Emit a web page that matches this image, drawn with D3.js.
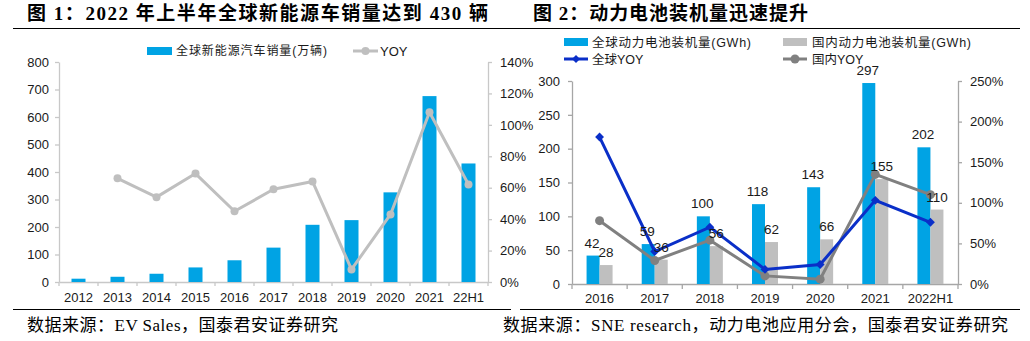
<!DOCTYPE html>
<html>
<head>
<meta charset="utf-8">
<script src="https://cdn.jsdelivr.net/npm/d3@7"></script>
<style>
  body { margin: 0; background: #fff; }
</style>
</head>
<body>
<script>
// chart 1 data
const years1 = ["2012", "2013", "2014", "2015", "2016", "2017", "2018", "2019", "2020", "2021", "22H1"];
const sales = [12, 19, 30, 53, 79, 125, 208, 225, 326, 676, 431];
const yoy1 = [null, 66, 54, 69, 45, 59, 64, 8, 43, 108, 62];
const leftTicks1 = [0, 100, 200, 300, 400, 500, 600, 700, 800];
const rightTicks1 = [0, 20, 40, 60, 80, 100, 120, 140];

// chart 2 data
const years2 = ["2016", "2017", "2018", "2019", "2020", "2021", "2022H1"];
const globalGwh = [42, 59, 100, 118, 143, 297, 202];
const chinaGwh = [28, 36, 56, 62, 66, 155, 110];
const globalYoy = [181, 40, 70, 18, 24, 103, 76];
const chinaYoy = [78, 29, 54, 10, 6, 135, 110];
const leftTicks2 = [0, 50, 100, 150, 200, 250, 300];
const rightTicks2 = [0, 50, 100, 150, 200, 250];

const width = 1030;
const height = 341;
const sans = "'Liberation Sans', Arial, 'Noto Sans CJK SC', sans-serif";
const serif = "'Liberation Serif', 'Times New Roman', 'Noto Sans CJK SC', serif";

const colors = {
  blue: "#00A3E4",
  lightGray: "#BFBFBF",
  darkGray: "#808080",
  navy: "#0A2FC8",
  axis1: "#C8C8C8",
  axis2: "#A6A6A6",
  text: "#1A1A1A",
};

const svg = d3.select("body")
  .append("svg")
  .attr("width", width)
  .attr("height", height)
  .attr("viewBox", `0 0 ${width} ${height}`);

svg.append("rect").attr("width", width).attr("height", height).attr("fill", "#fff");

// titles and rules
svg.append("text")
  .attr("x", 27).attr("y", 19.5)
  .attr("font-family", serif).attr("font-size", 19).attr("font-weight", 700)
  .attr("fill", "#000")
  .attr("textLength", 461).attr("lengthAdjust", "spacing")
  .text("图 1：2022 年上半年全球新能源车销量达到 430 辆");

svg.append("text")
  .attr("x", 533).attr("y", 19.5)
  .attr("font-family", serif).attr("font-size", 19).attr("font-weight", 700)
  .attr("fill", "#000")
  .attr("textLength", 275).attr("lengthAdjust", "spacing")
  .text("图 2：动力电池装机量迅速提升");

svg.append("line").attr("x1", 13).attr("x2", 1020).attr("y1", 28.5).attr("y2", 28.5)
  .attr("stroke", "#000").attr("stroke-width", 1.2);
svg.append("line").attr("x1", 13).attr("x2", 511).attr("y1", 309.5).attr("y2", 309.5)
  .attr("stroke", "#000").attr("stroke-width", 1.2);
svg.append("line").attr("x1", 520).attr("x2", 1020).attr("y1", 309.5).attr("y2", 309.5)
  .attr("stroke", "#000").attr("stroke-width", 1.2);

svg.append("text")
  .attr("x", 27).attr("y", 331)
  .attr("font-family", serif).attr("font-size", 17).attr("fill", "#000")
  .attr("textLength", 311).attr("lengthAdjust", "spacing")
  .text("数据来源：EV Sales，国泰君安证券研究");

svg.append("text")
  .attr("x", 503).attr("y", 331)
  .attr("font-family", serif).attr("font-size", 17).attr("fill", "#000")
  .attr("textLength", 505).attr("lengthAdjust", "spacing")
  .text("数据来源：SNE research，动力电池应用分会，国泰君安证券研究");

function styleAxis(g, color) {
  g.select(".domain").attr("stroke", color).attr("stroke-width", 1.3);
  g.selectAll(".tick line").attr("stroke", color).attr("stroke-width", 1.3);
  g.selectAll("text")
    .attr("fill", colors.text)
    .attr("font-family", sans)
    .attr("font-size", 13);
}

// ---------- chart 1 ----------
{
  const left = 59, right = 488, top = 62, bottom = 282;
  const x = d3.scaleBand().domain(years1).range([left, right]);
  const y = d3.scaleLinear().domain([0, 800]).range([bottom, top]);
  const y2 = d3.scaleLinear().domain([0, 140]).range([bottom, top]);
  const barW = 14;

  svg.append("g")
    .attr("transform", `translate(${left},0)`)
    .call(d3.axisLeft(y).tickValues(leftTicks1).tickSize(4).tickPadding(6).tickSizeOuter(0))
    .call((g) => styleAxis(g, colors.axis1));

  svg.append("g")
    .attr("transform", `translate(${right},0)`)
    .call(d3.axisRight(y2).tickValues(rightTicks1).tickSize(4).tickPadding(8).tickSizeOuter(0)
      .tickFormat((d) => d + "%"))
    .call((g) => styleAxis(g, colors.axis1));

  const xAxis = svg.append("g")
    .attr("transform", `translate(0,${bottom})`)
    .call(d3.axisBottom(x).tickSize(0).tickPadding(11))
    .call((g) => styleAxis(g, colors.axis1));
  xAxis.selectAll(".boundary")
    .data(d3.range(years1.length + 1))
    .join("line")
    .attr("x1", (i) => left + i * x.step())
    .attr("x2", (i) => left + i * x.step())
    .attr("y1", 0).attr("y2", 4)
    .attr("stroke", colors.axis1).attr("stroke-width", 1.3);

  svg.append("g")
    .selectAll("rect")
    .data(years1)
    .join("rect")
    .attr("x", (d) => x(d) + x.bandwidth() / 2 - barW / 2)
    .attr("y", (d, i) => y(sales[i]))
    .attr("width", barW)
    .attr("height", (d, i) => y(0) - y(sales[i]))
    .attr("fill", colors.blue);

  const pts = years1.map((d, i) => ({ x: x(d) + x.bandwidth() / 2, v: yoy1[i] })).filter((p) => p.v !== null);
  svg.append("path")
    .datum(pts)
    .attr("fill", "none")
    .attr("stroke", colors.lightGray)
    .attr("stroke-width", 3)
    .attr("stroke-linejoin", "round")
    .attr("d", d3.line().x((p) => p.x).y((p) => y2(p.v)));
  svg.append("g")
    .selectAll("circle")
    .data(pts)
    .join("circle")
    .attr("cx", (p) => p.x)
    .attr("cy", (p) => y2(p.v))
    .attr("r", 4)
    .attr("fill", colors.lightGray);

  // legend
  svg.append("rect").attr("x", 147).attr("y", 47).attr("width", 25).attr("height", 8).attr("fill", colors.blue);
  svg.append("text").attr("x", 176).attr("y", 55)
    .attr("font-family", sans).attr("font-size", 12).attr("fill", colors.text)
    .attr("textLength", 151).attr("lengthAdjust", "spacing")
    .text("全球新能源汽车销量(万辆)");
  svg.append("line").attr("x1", 353).attr("x2", 378).attr("y1", 51).attr("y2", 51)
    .attr("stroke", colors.lightGray).attr("stroke-width", 3);
  svg.append("circle").attr("cx", 365.5).attr("cy", 51).attr("r", 4).attr("fill", colors.lightGray);
  svg.append("text").attr("x", 380).attr("y", 55.5)
    .attr("font-family", sans).attr("font-size", 13).attr("fill", colors.text)
    .text("YOY");
}

// ---------- chart 2 ----------
{
  const left = 572, right = 958, top = 81, bottom = 284;
  const x = d3.scaleBand().domain(years2).range([left, right]);
  const y = d3.scaleLinear().domain([0, 300]).range([bottom, top]);
  const y2 = d3.scaleLinear().domain([0, 250]).range([bottom, top]);
  const barW = 13;

  svg.append("g")
    .attr("transform", `translate(${left},0)`)
    .call(d3.axisLeft(y).tickValues(leftTicks2).tickSize(4).tickPadding(8).tickSizeOuter(0))
    .call((g) => styleAxis(g, colors.axis2));

  svg.append("g")
    .attr("transform", `translate(${right},0)`)
    .call(d3.axisRight(y2).tickValues(rightTicks2).tickSize(4).tickPadding(8).tickSizeOuter(0)
      .tickFormat((d) => d + "%"))
    .call((g) => styleAxis(g, colors.axis2));

  const xAxis = svg.append("g")
    .attr("transform", `translate(0,${bottom})`)
    .call(d3.axisBottom(x).tickSize(0).tickPadding(10))
    .call((g) => styleAxis(g, colors.axis2));
  xAxis.selectAll(".boundary")
    .data(d3.range(years2.length + 1))
    .join("line")
    .attr("x1", (i) => left + i * x.step())
    .attr("x2", (i) => left + i * x.step())
    .attr("y1", 0).attr("y2", 5)
    .attr("stroke", colors.axis2).attr("stroke-width", 1.3);

  const cx = (d) => x(d) + x.bandwidth() / 2;

  svg.append("g")
    .selectAll("rect")
    .data(years2)
    .join("rect")
    .attr("x", (d) => cx(d) - barW)
    .attr("y", (d, i) => y(globalGwh[i]))
    .attr("width", barW)
    .attr("height", (d, i) => y(0) - y(globalGwh[i]))
    .attr("fill", colors.blue);

  svg.append("g")
    .selectAll("rect")
    .data(years2)
    .join("rect")
    .attr("x", (d) => cx(d))
    .attr("y", (d, i) => y(chinaGwh[i]))
    .attr("width", barW)
    .attr("height", (d, i) => y(0) - y(chinaGwh[i]))
    .attr("fill", colors.lightGray);

  // china yoy line
  svg.append("path")
    .datum(years2)
    .attr("fill", "none")
    .attr("stroke", colors.darkGray)
    .attr("stroke-width", 3)
    .attr("d", d3.line().x((d) => cx(d)).y((d, i) => y2(chinaYoy[i])));
  svg.append("g")
    .selectAll("circle")
    .data(years2)
    .join("circle")
    .attr("cx", (d) => cx(d))
    .attr("cy", (d, i) => y2(chinaYoy[i]))
    .attr("r", 4.5)
    .attr("fill", colors.darkGray);

  // global yoy line
  svg.append("path")
    .datum(years2)
    .attr("fill", "none")
    .attr("stroke", colors.navy)
    .attr("stroke-width", 3)
    .attr("d", d3.line().x((d) => cx(d)).y((d, i) => y2(globalYoy[i])));
  svg.append("g")
    .selectAll("path")
    .data(years2)
    .join("path")
    .attr("transform", (d, i) => `translate(${cx(d)},${y2(globalYoy[i])})`)
    .attr("d", d3.symbol(d3.symbolDiamond2, 50))
    .attr("fill", colors.navy);

  // value labels
  svg.append("g")
    .selectAll("text")
    .data(years2)
    .join("text")
    .attr("x", (d) => cx(d) - barW / 2 - 1)
    .attr("y", (d, i) => y(globalGwh[i]) - 8)
    .attr("text-anchor", "middle")
    .attr("font-family", sans).attr("font-size", 13.5).attr("fill", colors.text)
    .text((d, i) => globalGwh[i]);
  svg.append("g")
    .selectAll("text")
    .data(years2)
    .join("text")
    .attr("x", (d) => cx(d) + barW / 2)
    .attr("y", (d, i) => y(chinaGwh[i]) - 8)
    .attr("text-anchor", "middle")
    .attr("font-family", sans).attr("font-size", 13.5).attr("fill", colors.text)
    .text((d, i) => chinaGwh[i]);

  // legend
  const lg = svg.append("g").attr("font-family", sans).attr("font-size", 12.5).attr("fill", colors.text);
  lg.append("rect").attr("x", 564).attr("y", 38).attr("width", 24).attr("height", 8).attr("fill", colors.blue);
  lg.append("text").attr("x", 592).attr("y", 46.5)
    .attr("textLength", 159).attr("lengthAdjust", "spacing")
    .text("全球动力电池装机量(GWh)");
  lg.append("rect").attr("x", 783).attr("y", 38).attr("width", 24).attr("height", 8).attr("fill", colors.lightGray);
  lg.append("text").attr("x", 812).attr("y", 46.5)
    .attr("textLength", 159).attr("lengthAdjust", "spacing")
    .text("国内动力电池装机量(GWh)");

  lg.append("line").attr("x1", 564).attr("x2", 588).attr("y1", 59).attr("y2", 59)
    .attr("stroke", colors.navy).attr("stroke-width", 3);
  lg.append("path").attr("transform", "translate(576,59)")
    .attr("d", d3.symbol(d3.symbolDiamond2, 40)).attr("fill", colors.navy);
  lg.append("text").attr("x", 592).attr("y", 63.5).text("全球YOY");

  lg.append("line").attr("x1", 783).attr("x2", 807).attr("y1", 59).attr("y2", 59)
    .attr("stroke", colors.darkGray).attr("stroke-width", 3);
  lg.append("circle").attr("cx", 795).attr("cy", 59).attr("r", 4.5).attr("fill", colors.darkGray);
  lg.append("text").attr("x", 812).attr("y", 63.5).text("国内YOY");
}
</script>
</body>
</html>
